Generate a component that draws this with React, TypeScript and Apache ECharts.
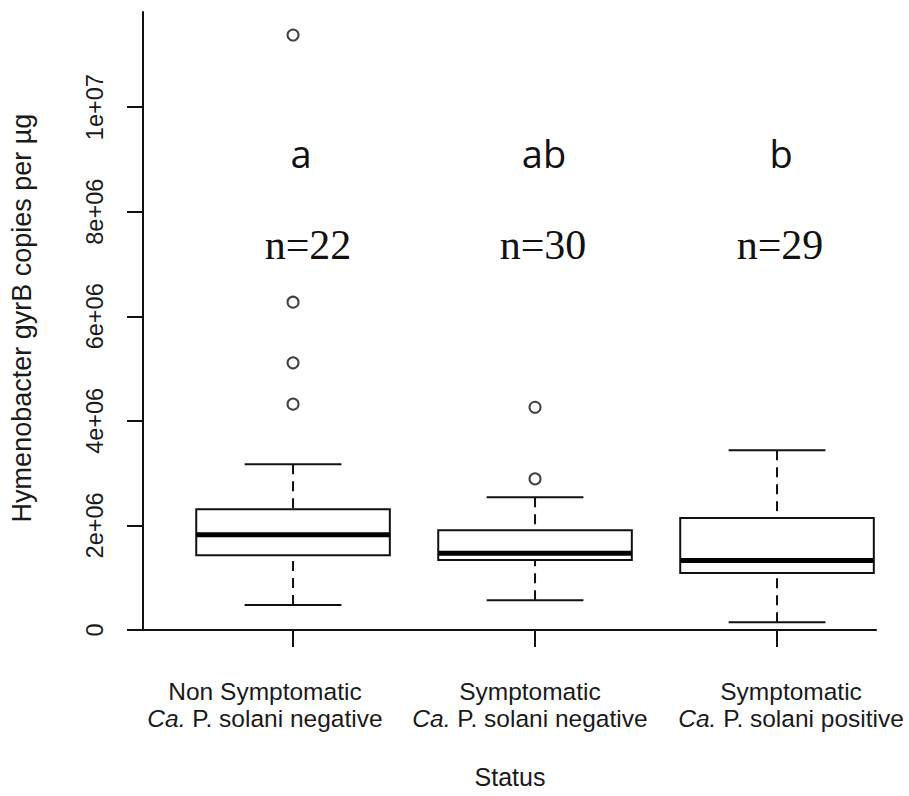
import React, { useEffect, useRef } from "react";
import * as echarts from "echarts";

// ---- data ----
const groupX = [1, 2, 3];
const labelLine1 = ["Non Symptomatic", "Symptomatic", "Symptomatic"];
const labelLine2 = ["P. solani negative", "P. solani negative", "P. solani positive"];
const labelPrefix = "Ca.";
const lowerWhisker = [0.48e6, 0.57e6, 0.15e6];
const q1 = [1.43e6, 1.34e6, 1.09e6];
const median = [1.82e6, 1.47e6, 1.33e6];
const q3 = [2.31e6, 1.91e6, 2.14e6];
const upperWhisker = [3.17e6, 2.54e6, 3.44e6];
const outlierGroup = [1, 1, 1, 1, 2, 2];
const outlierValue = [4.32e6, 5.11e6, 6.27e6, 11.38e6, 2.89e6, 4.26e6];
const letters = ["a", "ab", "b"];
const counts = [22, 30, 29];
const yTickValues = [0, 2e6, 4e6, 6e6, 8e6, 1e7];
const yTickLabels = ["0", "2e+06", "4e+06", "6e+06", "8e+06", "1e+07"];
const yTitle = "Hymenobacter gyrB copies per \u00b5g";
const xTitle = "Status";

// ---- layout (positions / styles) ----
const labelPos = [0.884, 1.979, 3.058];
const letterPx = [[301, 153], [544, 153], [781, 153]];
const countPx = [[308, 245], [543, 245], [780, 245]];
const SANS = "'Liberation Sans', Arial, Helvetica, sans-serif";
const INK = "#111";
const TXT = "#1a1a1a";

export default function App() {
  const ref = useRef<HTMLDivElement>(null);
  useEffect(() => {
    document.body.style.margin = "0";
    if (!ref.current) return;
    const chart = echarts.init(ref.current, null, { renderer: "svg" });

    const boxData = groupX.map((x, i) => [x, lowerWhisker[i], q1[i], median[i], q3[i], upperWhisker[i]]);
    const outData = outlierGroup.map((g, i) => [g, outlierValue[i]]);

    const option: any = {
      animation: false,
      backgroundColor: "#fff",
      grid: { left: 143, top: 12, right: 33, bottom: 166, containLabel: false },
      xAxis: {
        type: "value",
        min: 0.38,
        max: 3.409,
        splitLine: { show: false },
        axisLine: { show: true, onZero: false, lineStyle: { color: INK, width: 2 } },
        axisTick: { show: true, length: 17, customValues: groupX, lineStyle: { color: INK, width: 2 } },
        axisLabel: {
          customValues: labelPos,
          margin: 48,
          color: TXT,
          fontFamily: SANS,
          fontSize: 24.5,
          lineHeight: 27,
          formatter: (_v: number, idx: number) => {
            const i = labelPos.findIndex((p) => Math.abs(p - _v) < 1e-6);
            const k = i >= 0 ? i : idx;
            return `${labelLine1[k]}\n{i|${labelPrefix}}{n| ${labelLine2[k]}}`;
          },
          rich: {
            i: { fontStyle: "italic", fontFamily: SANS, fontSize: 24.5, lineHeight: 27, color: TXT },
            n: { fontFamily: SANS, fontSize: 24.5, lineHeight: 27, color: TXT },
          },
        },
      },
      yAxis: {
        type: "value",
        min: 0,
        max: 11.82e6,
        splitLine: { show: false },
        axisLine: { show: true, onZero: false, lineStyle: { color: INK, width: 2 } },
        axisTick: { show: true, length: 16, customValues: yTickValues, lineStyle: { color: INK, width: 2 } },
        axisLabel: {
          customValues: yTickValues,
          rotate: 90,
          margin: 36,
          color: TXT,
          fontFamily: SANS,
          fontSize: 23.5,
          formatter: (v: number) => {
            const i = yTickValues.findIndex((t) => Math.abs(t - v) < 1);
            return i >= 0 ? yTickLabels[i] : "";
          },
        },
      },
      series: [
        {
          type: "custom",
          clip: false,
          data: boxData,
          renderItem: (_p: any, api: any) => {
            const x = api.value(0);
            const lo = api.value(1);
            const b1 = api.value(2);
            const md = api.value(3);
            const b3 = api.value(4);
            const hi = api.value(5);
            const hb = 0.4;
            const hc = 0.2;
            const c = (a: number, b: number) => api.coord([a, b]);
            const tl = c(x - hb, b3);
            const br = c(x + hb, b1);
            const dash = { stroke: INK, lineWidth: 2, lineDash: [10, 7], fill: null };
            const solid = { stroke: INK, lineWidth: 2, fill: null };
            const pHi = c(x, hi), pQ3 = c(x, b3), pQ1 = c(x, b1), pLo = c(x, lo);
            return {
              type: "group",
              children: [
                { type: "line", shape: { x1: pHi[0], y1: pHi[1], x2: pQ3[0], y2: pQ3[1] }, style: dash },
                { type: "line", shape: { x1: pLo[0], y1: pLo[1], x2: pQ1[0], y2: pQ1[1] }, style: dash },
                { type: "line", shape: { x1: c(x - hc, hi)[0], y1: pHi[1], x2: c(x + hc, hi)[0], y2: pHi[1] }, style: solid },
                { type: "line", shape: { x1: c(x - hc, lo)[0], y1: pLo[1], x2: c(x + hc, lo)[0], y2: pLo[1] }, style: solid },
                {
                  type: "rect",
                  shape: { x: tl[0], y: tl[1], width: br[0] - tl[0], height: br[1] - tl[1] },
                  style: { fill: "#fff", stroke: INK, lineWidth: 2 },
                },
                {
                  type: "line",
                  shape: { x1: c(x - hb, md)[0], y1: c(x, md)[1], x2: c(x + hb, md)[0], y2: c(x, md)[1] },
                  style: { stroke: "#000", lineWidth: 5 },
                },
              ],
            };
          },
        },
        {
          type: "scatter",
          data: outData,
          symbol: "circle",
          symbolSize: 11,
          itemStyle: { color: "rgba(0,0,0,0)", borderColor: INK, borderWidth: 2 },
          z: 5,
        },
      ],
      graphic: [
        ...letters.map((t, i) => ({
          type: "text",
          x: letterPx[i][0],
          y: letterPx[i][1],
          style: {
            text: t,
            fontFamily: "'Open Sans', 'Noto Sans', sans-serif",
            fontSize: 38,
            fill: "#111",
            align: "center",
            verticalAlign: "middle",
          },
        })),
        ...counts.map((n, i) => ({
          type: "text",
          x: countPx[i][0],
          y: countPx[i][1],
          style: {
            text: `n=${n}`,
            fontFamily: "'Liberation Serif', 'Times New Roman', serif",
            fontSize: 42,
            fill: "#111",
            align: "center",
            verticalAlign: "middle",
          },
        })),
        {
          type: "text",
          x: 22,
          y: 318,
          rotation: Math.PI / 2,
          style: {
            text: yTitle,
            fontFamily: SANS,
            fontSize: 27,
            fill: TXT,
            align: "center",
            verticalAlign: "middle",
          },
        },
        {
          type: "text",
          x: 510,
          y: 777,
          style: {
            text: xTitle,
            fontFamily: SANS,
            fontSize: 25,
            fill: TXT,
            align: "center",
            verticalAlign: "middle",
          },
        },
      ],
    };
    chart.setOption(option);
    return () => chart.dispose();
  }, []);
  return <div ref={ref} style={{ width: 909, height: 796 }} />;
}
